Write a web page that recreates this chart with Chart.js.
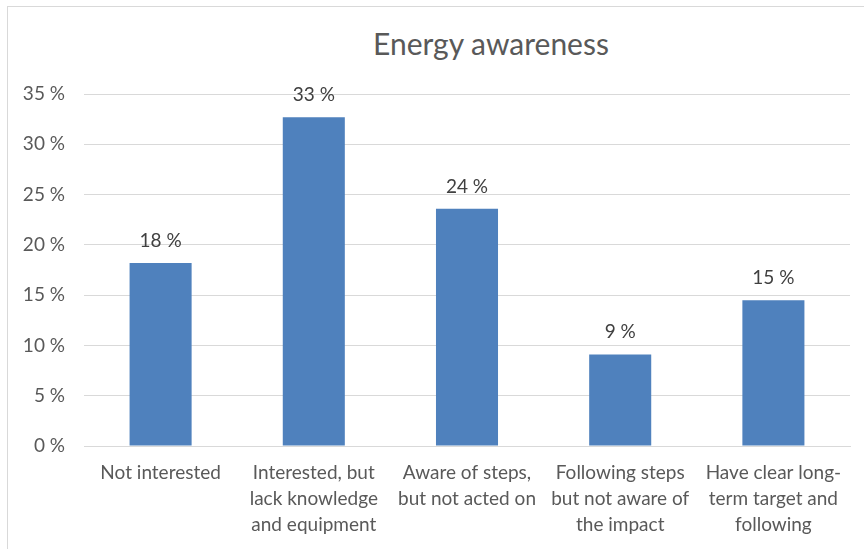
<!DOCTYPE html>
<html>
<head>
<meta charset="utf-8">
<script src="https://cdn.jsdelivr.net/npm/chart.js"></script>
<style>
html, body { margin: 0; padding: 0; background: #fff; overflow: hidden; }
#frame {
    position: absolute; left: 7px; top: 6px; width: 1000px; height: 600px;
    border-top: 1px solid #d9d9d9; border-left: 1px solid #d9d9d9;
}
#title {
    position: absolute; left: 0; top: 28px; width: 982px;
    text-align: center; font: 30px/30px Lato; color: #595959;
}
canvas { position: absolute; left: 0; top: 0; }
</style>
</head>
<body>
<div id="frame"></div>
<div id="title">Energy awareness</div>
<canvas id="awarenessChart" width="864" height="549"></canvas>

<script>
// survey answers, wrapped the way they sit under each bar
var categories = [
    ['Not interested'],
    ['Interested, but', 'lack knowledge', 'and equipment'],
    ['Aware of steps,', 'but not acted on'],
    ['Following steps', 'but not aware of', 'the impact'],
    ['Have clear long-', 'term target and', 'following']
];
var shares = [18.2, 32.7, 23.6, 9.1, 14.5];   // % of respondents
var yMin = 0, yMax = 35, yStep = 5;

var textGrey = '#595959';
var gridGrey = '#d9d9d9';

// "18 %" style value above every bar
var barValueLabels = {
    id: 'barValueLabels',
    afterDatasetsDraw: function (chart) {
        var ctx = chart.ctx;
        var meta = chart.getDatasetMeta(0);
        ctx.save();
        ctx.font = '19px Lato';
        ctx.fillStyle = '#404040';
        ctx.textAlign = 'center';
        ctx.textBaseline = 'alphabetic';
        meta.data.forEach(function (bar, i) {
            ctx.fillText(Math.round(shares[i]) + ' %', bar.x, bar.y - 16);
        });
        ctx.restore();
    }
};

Chart.defaults.font.family = 'Lato';

var ctx = document.getElementById('awarenessChart').getContext('2d');
var chart = new Chart(ctx, {
    type: 'bar',
    data: {
        labels: categories,
        datasets: [{
            data: shares,
            backgroundColor: '#4f81bd',
            borderWidth: 0,
            categoryPercentage: 1,
            barPercentage: 0.405
        }]
    },
    options: {
        responsive: false,
        animation: false,
        layout: { padding: { top: 94, right: 14, left: 0, bottom: 0 } },
        plugins: {
            legend: { display: false },
            tooltip: { enabled: false }
        },
        scales: {
            x: {
                grid: { display: false, drawTicks: false },
                border: { display: true, color: gridGrey, width: 1 },
                ticks: {
                    color: textGrey,
                    padding: 14,
                    maxRotation: 0,
                    autoSkip: false,
                    font: { size: 19, lineHeight: 26 / 19 }
                },
                afterFit: function (scale) { scale.height = 103; }
            },
            y: {
                min: yMin,
                max: yMax,
                grid: { color: gridGrey, drawTicks: false },
                border: { display: false },
                ticks: {
                    stepSize: yStep,
                    color: textGrey,
                    padding: 19,
                    font: { size: 19 },
                    callback: function (v) { return v + ' %'; }
                },
                afterFit: function (scale) { scale.width = 84; }
            }
        }
    },
    plugins: [barValueLabels]
});
</script>
</body>
</html>
